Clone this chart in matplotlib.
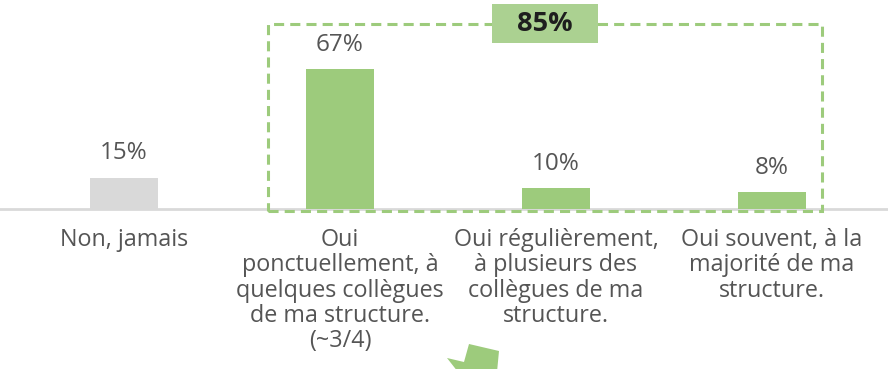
import matplotlib
matplotlib.use("Agg")
import matplotlib.pyplot as plt
from matplotlib.patches import Rectangle, Polygon

categories = [
    "Non, jamais",
    "Oui\nponctuellement, à\nquelques collègues\nde ma structure.\n(~3/4)",
    "Oui régulièrement,\nà plusieurs des\ncollègues de ma\nstructure.",
    "Oui souvent, à la\nmajorité de ma\nstructure.",
]
values = [15, 67, 10, 8]
bar_colors = ["#D9D9D9", "#9DCB7C", "#9DCB7C", "#9DCB7C"]
grouped = [1, 2, 3]  # the "yes" answers, summed in the dashed frame

GREEN = "#9DCB7C"
BOX_GREEN = "#ABD191"
TEXT = "#555555"

plt.rcParams["font.family"] = ["Open Sans", "DejaVu Sans"]

fig = plt.figure(figsize=(8.88, 3.69), dpi=100)
ax = fig.add_axes([0, 0, 1, 1])
ax.set_xlim(-0.574, 3.537)
ax.set_ylim(-76.6, 100)
ax.axis("off")

x = list(range(len(categories)))
ax.bar(x, values, width=0.315, color=bar_colors, zorder=2)

# baseline
ax.axhline(0, color="#D9D9D9", lw=2, zorder=1)

# value labels above bars
for xi, v in zip(x, values):
    ax.annotate(f"{v}%", (xi, v), xytext=(0, 17.5), textcoords="offset points",
                ha="center", va="center", fontsize=17.5, color=TEXT)

# category labels under the axis
for xi, lab in zip(x, categories):
    ax.annotate(lab, (xi, 0), xytext=(0, -14), textcoords="offset points",
                ha="center", va="top", fontsize=16.8, color=TEXT,
                linespacing=1.06)

# dashed frame around the "yes" answers
left = grouped[0] - 0.333
right = grouped[-1] + 0.231
frame = Rectangle((left, -1.0), right - left, 89.5, fill=False,
                  edgecolor=GREEN, lw=2.2, linestyle=(0, (3.3, 2.0)), zorder=3)
ax.add_patch(frame)

# total of the "yes" answers in a green box on the frame
total = sum(values[i] for i in grouped)
bx0, bx1 = 1.704, 2.194
ax.add_patch(Rectangle((bx0, 79.4), bx1 - bx0, 18.7, facecolor=BOX_GREEN,
                       edgecolor="none", zorder=4))
ax.text((bx0 + bx1) / 2, 88.6, f"{total}%", ha="center", va="center",
        fontsize=19.5, fontweight="bold", color="#1E1E1E", zorder=5)

# green arrow shape at the bottom
arrow_px = [(447, 358), (464, 362), (469, 344), (499, 351), (497, 372), (458, 372)]
arrow = Polygon([(px / 888, 1 - py / 369) for px, py in arrow_px],
                closed=True, transform=fig.transFigure, facecolor=GREEN,
                edgecolor="none", zorder=6)
fig.patches.append(arrow)

fig.savefig("out.png", dpi=100)
